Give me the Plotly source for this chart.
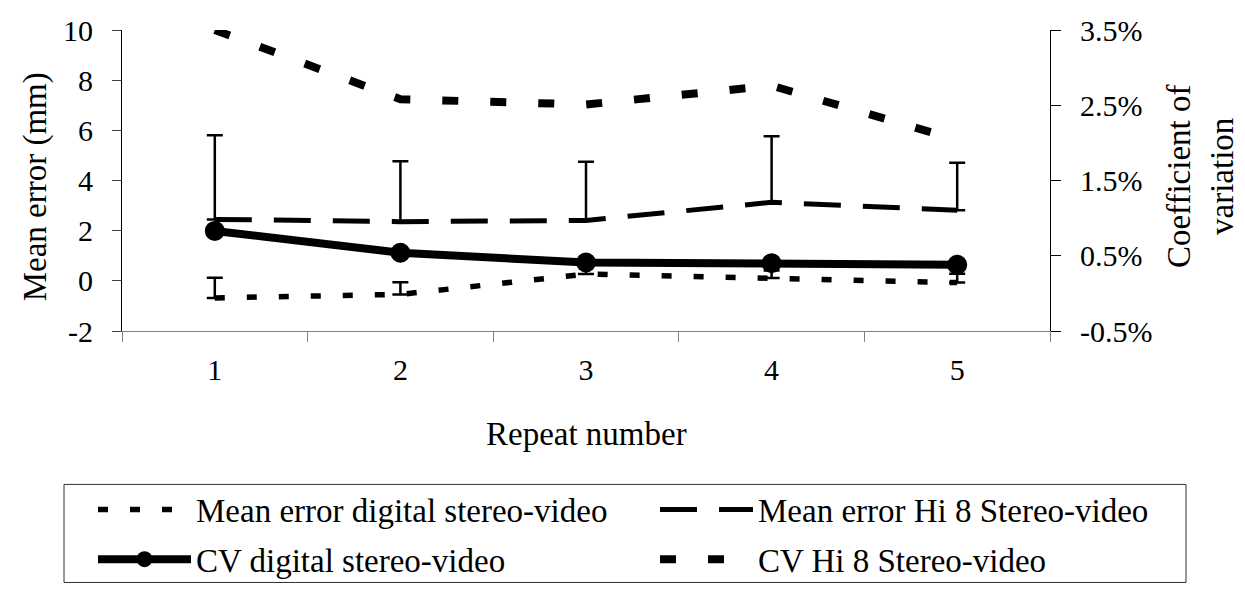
import plotly.graph_objects as go

repeats = ["1", "2", "3", "4", "5"]
mean_err_digital = [-0.68, -0.54, 0.27, 0.11, -0.07]
mean_err_digital_sd = [0.80, 0.48, 0.30, 0.30, 0.35]
mean_err_hi8 = [2.45, 2.36, 2.41, 3.13, 2.81]
mean_err_hi8_sd = [3.35, 2.41, 2.34, 2.63, 1.90]
cv_digital = [0.0083, 0.0054, 0.0041, 0.0040, 0.0038]
cv_hi8 = [0.0350, 0.0258, 0.0251, 0.0276, 0.0204]

left_ticks = [-2, 0, 2, 4, 6, 8, 10]
left_tick_labels = ["-2", "0", "2", "4", "6", "8", "10"]
right_ticks = [-0.005, 0.005, 0.015, 0.025, 0.035]
right_tick_labels = ["-0.5%", "0.5%", "1.5%", "2.5%", "3.5%"]

FONT = "Liberation Serif, Times New Roman, serif"

fig = go.Figure()
fig.add_trace(go.Scatter(
    x=repeats, y=mean_err_digital, name="Mean error digital stereo-video",
    mode="lines", line=dict(color="black", width=5.5, dash="10px,22px"),
    error_y=dict(type="data", symmetric=False, array=mean_err_digital_sd,
                 arrayminus=[0] * 5, color="black", thickness=2.5, width=8),
    yaxis="y", legend="legend"))
fig.add_trace(go.Scatter(
    x=repeats, y=mean_err_hi8, name="Mean error Hi 8 Stereo-video",
    mode="lines", line=dict(color="black", width=5, dash="37px,22px"),
    error_y=dict(type="data", symmetric=False, array=mean_err_hi8_sd,
                 arrayminus=[0] * 5, color="black", thickness=2.5, width=8),
    yaxis="y", legend="legend2"))
fig.add_trace(go.Scatter(
    x=repeats, y=cv_digital, name="CV digital stereo-video",
    mode="lines+markers", line=dict(color="black", width=8),
    marker=dict(symbol="circle", size=20, color="black"),
    yaxis="y2", legend="legend3"))
fig.add_trace(go.Scatter(
    x=repeats, y=cv_hi8, name="CV Hi 8 Stereo-video",
    mode="lines", line=dict(color="black", width=8, dash="16px,32px"),
    yaxis="y2", legend="legend4"))

def leg(x, y):
    return dict(
        orientation="h", x=x, xanchor="left", y=y, yanchor="middle",
        bgcolor="rgba(0,0,0,0)", borderwidth=0,
        font=dict(family=FONT, size=33, color="black"),
        itemwidth=93)

row1 = (332 - 516) / 310
row2 = (332 - 567) / 310
col1 = (85 - 114) / 928
col2 = (647 - 114) / 928

fig.update_layout(
    template="none",
    width=1245, height=592,
    margin=dict(l=114, r=203, t=22, b=260, pad=0),
    paper_bgcolor="white", plot_bgcolor="white",
    font=dict(family=FONT, size=30, color="black"),
    showlegend=True,
    xaxis=dict(
        type="category", categoryorder="array", categoryarray=repeats,
        range=[-0.5, 4.5], tickson="boundaries", automargin=False,
        ticks="outside", ticklen=10, tickcolor="#808080", tickwidth=1,
        showline=True, linecolor="#808080", linewidth=1,
        showgrid=False, zeroline=False, ticklabelstandoff=12,
        tickfont=dict(size=30)),
    yaxis=dict(
        range=[-2, 10], tickmode="array", tickvals=left_ticks,
        ticktext=left_tick_labels, automargin=False,
        ticks="outside", ticklen=9, tickcolor="#404040", tickwidth=1,
        showline=True, linecolor="black", linewidth=1,
        showgrid=False, zeroline=False, ticklabelstandoff=13,
        tickfont=dict(size=30)),
    yaxis2=dict(
        overlaying="y", side="right", automargin=False,
        range=[-0.005, 0.035], tickmode="array", tickvals=right_ticks,
        ticktext=right_tick_labels,
        ticks="outside", ticklen=10, tickcolor="black", tickwidth=1,
        showline=True, linecolor="black", linewidth=1,
        showgrid=False, zeroline=False, ticklabelstandoff=13,
        tickfont=dict(size=30)),
    yaxis3=dict(
        overlaying="y", side="right", automargin=False,
        range=[-0.005, 0.035], tickmode="array", tickvals=right_ticks,
        ticks="inside", ticklen=10, tickcolor="black", tickwidth=1,
        showticklabels=False, showline=False,
        showgrid=False, zeroline=False),
    legend=leg(col1, row1),
    legend2=leg(col2, row1),
    legend3=leg(col1, row2),
    legend4=leg(col2, row2),
    shapes=[dict(type="rect", xref="paper", yref="paper",
                 x0=(56 - 114) / 928, x1=(1178 - 114) / 928,
                 y0=(332 - 591) / 310, y1=(332 - 490) / 310,
                 line=dict(color="#303030", width=1),
                 fillcolor="rgba(0,0,0,0)", layer="below")],
    annotations=[
        dict(text="Mean error (mm)", xref="paper", yref="paper",
             x=(27 - 114) / 928, y=(332 - 184) / 310, textangle=-90,
             showarrow=False, font=dict(size=33),
             xanchor="center", yanchor="middle"),
        dict(text="Coefficient of<br>variation", xref="paper", yref="paper",
             x=(1192.5 - 114) / 928, y=(332 - 173) / 310, textangle=-90,
             showarrow=False, font=dict(size=33),
             xanchor="center", yanchor="middle"),
        dict(text="Repeat number", xref="paper", yref="paper",
             x=0.5, y=(332 - 438) / 310, showarrow=False,
             font=dict(size=33), xanchor="center", yanchor="middle"),
    ],
)

fig.write_html("out.html")
